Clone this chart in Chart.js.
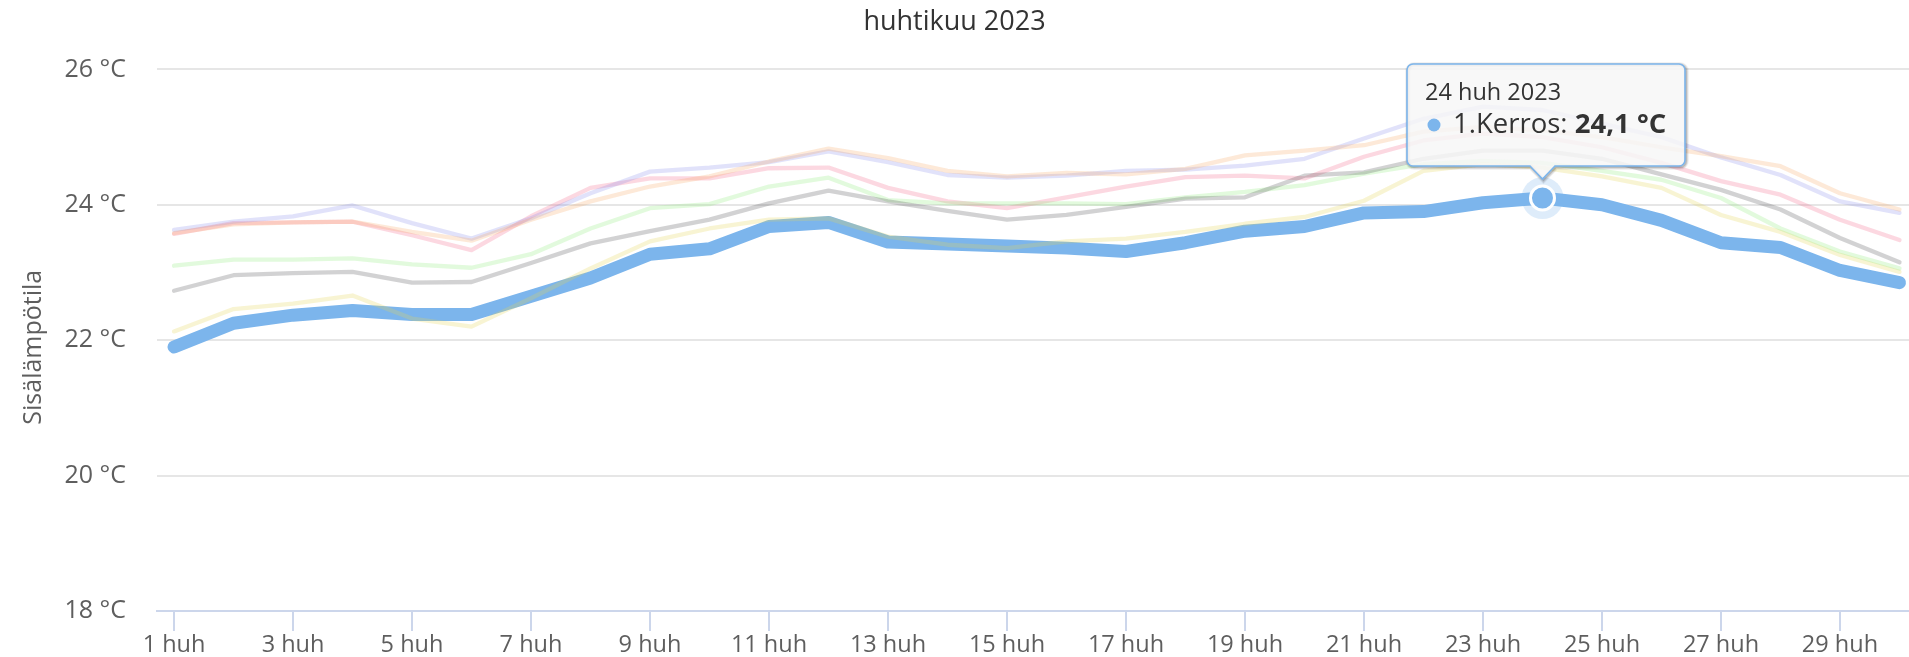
<!DOCTYPE html>
<html>
<head>
<meta charset="utf-8">
<script src="https://cdn.jsdelivr.net/npm/chart.js@4.4.0/dist/chart.umd.min.js"></script>
<style>
html,body{margin:0;padding:0;background:#ffffff;overflow:hidden}
#wrap{position:relative;width:1909px;height:657px}
</style>
</head>
<body>
<div id="wrap"><canvas id="c" width="1909" height="657"></canvas></div>
<script>
// ---- data ----
const days = [1,2,3,4,5,6,7,8,9,10,11,12,13,14,15,16,17,18,19,20,21,22,23,24,25,26,27,28,29,30];
const xTickDays = [1,3,5,7,9,11,13,15,17,19,21,23,25,27,29];
const xTickLabels = ['1 huh','3 huh','5 huh','7 huh','9 huh','11 huh','13 huh','15 huh','17 huh','19 huh','21 huh','23 huh','25 huh','27 huh','29 huh'];
const yTicks = [18,20,22,24,26];
const chartTitle = 'huhtikuu 2023';
const yTitle = 'Sisälämpötila';
const hoverDay = 24;

const kerros1  = [21.90,22.25,22.37,22.44,22.38,22.38,22.65,22.92,23.27,23.35,23.68,23.74,23.45,23.42,23.39,23.36,23.31,23.44,23.61,23.68,23.88,23.90,24.03,24.10,24.00,23.77,23.44,23.37,23.03,22.85];
const sarjaHarmaa = [22.73,22.96,22.99,23.01,22.85,22.86,23.14,23.43,23.61,23.78,24.02,24.21,24.05,23.91,23.78,23.85,23.97,24.09,24.11,24.43,24.48,24.68,24.80,24.80,24.68,24.45,24.22,23.93,23.51,23.15];
const sarjaVihrea = [23.10,23.19,23.19,23.21,23.12,23.07,23.27,23.65,23.95,24.01,24.27,24.40,24.07,24.02,24.02,24.02,24.01,24.11,24.19,24.29,24.46,24.60,24.65,24.62,24.50,24.37,24.10,23.65,23.31,23.06];
const sarjaOranssi = [23.58,23.71,23.74,23.75,23.60,23.47,23.78,24.05,24.27,24.42,24.64,24.83,24.69,24.50,24.42,24.47,24.45,24.53,24.73,24.80,24.88,25.08,25.15,25.10,25.00,24.85,24.72,24.57,24.17,23.93];
const sarjaVioletti = [23.63,23.75,23.83,23.99,23.73,23.50,23.80,24.17,24.49,24.55,24.63,24.79,24.63,24.44,24.40,24.43,24.50,24.52,24.58,24.68,24.98,25.27,25.45,25.40,25.20,25.00,24.70,24.44,24.05,23.88];
const sarjaPunainen = [23.57,23.73,23.74,23.75,23.55,23.33,23.83,24.25,24.39,24.39,24.54,24.55,24.25,24.05,23.95,24.11,24.27,24.41,24.43,24.39,24.71,24.95,25.05,25.00,24.85,24.62,24.35,24.15,23.78,23.48];
const sarjaKeltainen = [22.13,22.46,22.54,22.66,22.32,22.20,22.62,23.06,23.46,23.65,23.78,23.80,23.53,23.41,23.36,23.46,23.50,23.60,23.72,23.82,24.06,24.50,24.60,24.55,24.42,24.25,23.85,23.60,23.26,23.01];

const fadedSeries = [
  ['2.Kerros', sarjaHarmaa,    'rgba(67,67,72,0.24)'],
  ['3.Kerros', sarjaVihrea,    'rgba(144,237,125,0.26)'],
  ['4.Kerros', sarjaOranssi,   'rgba(247,163,92,0.24)'],
  ['5.Kerros', sarjaVioletti,  'rgba(128,133,233,0.24)'],
  ['6.Kerros', sarjaPunainen,  'rgba(241,92,128,0.24)'],
  ['7.Kerros', sarjaKeltainen, 'rgba(228,211,84,0.26)']
];

const MAIN_COLOR = '#7cb5ec';
const LABEL_COLOR = '#5e5e5e';
const HOVER_INDEX = days.indexOf(hoverDay);
const toXY = vals => vals.map((v, i) => ({x: days[i], y: v}));
const FONT = '"Open Sans", sans-serif';

function roundedCallout(ctx, x, y, w, h, r, cx, caretH, caretW) {
  const b = y + h;
  ctx.beginPath();
  ctx.moveTo(x + r, y);
  ctx.lineTo(x + w - r, y);
  ctx.arcTo(x + w, y, x + w, y + r, r);
  ctx.lineTo(x + w, b - r);
  ctx.arcTo(x + w, b, x + w - r, b, r);
  ctx.lineTo(cx + caretW, b);
  ctx.lineTo(cx, b + caretH);
  ctx.lineTo(cx - caretW, b);
  ctx.lineTo(x + r, b);
  ctx.arcTo(x, b, x, b - r, r);
  ctx.lineTo(x, y + r);
  ctx.arcTo(x, y, x + r, y, r);
  ctx.closePath();
}

const yTitlePlugin = {
  id: 'yTitle',
  afterDraw(chart) {
    const ctx = chart.ctx;
    const a = chart.chartArea;
    ctx.save();
    ctx.translate(34, (a.top + a.bottom) / 2 + 7);
    ctx.rotate(-Math.PI / 2);
    ctx.font = '25px ' + FONT;
    ctx.fillStyle = LABEL_COLOR;
    ctx.textAlign = 'center';
    ctx.textBaseline = 'middle';
    ctx.fillText(yTitle, 0, 0);
    ctx.restore();
  }
};

const haloPlugin = {
  id: 'halo',
  beforeDatasetsDraw(chart) {
    const meta = chart.getDatasetMeta(0);
    const pt = meta.data[HOVER_INDEX];
    if (!pt) return;
    const ctx = chart.ctx;
    ctx.save();
    ctx.fillStyle = 'rgba(124,181,236,0.25)';
    ctx.beginPath();
    ctx.arc(pt.x, pt.y, 21, 0, Math.PI * 2);
    ctx.fill();
    ctx.restore();
  }
};

const tooltipPlugin = {
  id: 'hcTooltip',
  afterDraw(chart) {
    const meta = chart.getDatasetMeta(0);
    const pt = meta.data[HOVER_INDEX];
    if (!pt) return;
    const ctx = chart.ctx;
    const header = days[HOVER_INDEX] + ' huh 2023';
    const name = chart.data.datasets[0].label + ': ';
    const val = kerros1[HOVER_INDEX].toFixed(1).replace('.', ',') + ' °C';
    ctx.save();
    ctx.font = '27.5px ' + FONT;
    const nameW = ctx.measureText(name).width;
    ctx.font = 'bold 27.5px ' + FONT;
    const valW = ctx.measureText(val).width;
    const w = Math.round(47 + nameW + valW + 18);
    const h = 102;
    const x = Math.round(pt.x - 135);
    const y = Math.round(pt.y - 134);
    for (let i = 0; i < 3; i++) {
      ctx.save();
      ctx.translate(1, 1);
      ctx.strokeStyle = 'rgba(0,0,0,' + (0.05 * (i + 1)) + ')';
      ctx.lineWidth = 6 - 2 * i;
      roundedCallout(ctx, x, y, w, h, 6, pt.x, 13, 12.5);
      ctx.stroke();
      ctx.restore();
    }
    roundedCallout(ctx, x, y, w, h, 6, pt.x, 13, 12.5);
    ctx.fillStyle = 'rgba(247,247,247,0.85)';
    ctx.fill();
    ctx.strokeStyle = MAIN_COLOR;
    ctx.lineWidth = 1.6;
    ctx.stroke();
    ctx.fillStyle = '#333333';
    ctx.textBaseline = 'middle';
    ctx.textAlign = 'left';
    ctx.font = '23.5px ' + FONT;
    ctx.fillText(header, x + 18, y + 29);
    ctx.fillStyle = MAIN_COLOR;
    ctx.beginPath();
    ctx.arc(x + 27, y + 61, 6.5, 0, Math.PI * 2);
    ctx.fill();
    ctx.fillStyle = '#333333';
    ctx.font = '27.5px ' + FONT;
    ctx.fillText(name, x + 46, y + 61);
    ctx.font = 'bold 27.5px ' + FONT;
    ctx.fillText(val, x + 46 + nameW, y + 61);
    ctx.restore();
  }
};

function build() {
  Chart.defaults.font.family = FONT;
  const datasets = [
    {
      label: '1.Kerros',
      data: toXY(kerros1),
      borderColor: MAIN_COLOR,
      backgroundColor: MAIN_COLOR,
      borderWidth: 13,
      borderCapStyle: 'round',
      borderJoinStyle: 'round',
      tension: 0,
      order: 10,
      pointRadius: c => c.dataIndex === HOVER_INDEX ? 12 : 0,
      pointBorderWidth: 3,
      pointBorderColor: '#ffffff',
      pointBackgroundColor: MAIN_COLOR,
      clip: false
    }
  ].concat(fadedSeries.map(([label, vals, color]) => ({
    label: label,
    data: toXY(vals),
    borderColor: color,
    backgroundColor: color,
    borderWidth: 4.3,
    borderCapStyle: 'round',
    borderJoinStyle: 'round',
    tension: 0,
    pointRadius: 0,
    order: 0,
    clip: false
  })));

  new Chart(document.getElementById('c'), {
    type: 'line',
    data: {datasets: datasets},
    options: {
      responsive: false,
      animation: false,
      devicePixelRatio: 1,
      events: [],
      layout: {padding: 0},
      plugins: {
        legend: {display: false},
        tooltip: {enabled: false},
        title: {
          display: true,
          text: chartTitle,
          color: '#333333',
          font: {size: 27, weight: 'normal', family: FONT},
          padding: {top: 6, bottom: 31}
        }
      },
      scales: {
        x: {
          type: 'linear',
          min: 0.714,
          max: 30.16,
          afterBuildTicks: s => { s.ticks = xTickDays.map(v => ({value: v})); },
          afterFit: s => { s.height = 44; },
          grid: {drawOnChartArea: false, drawTicks: true, tickLength: 20, tickColor: '#ccd6eb', lineWidth: 2},
          border: {display: true, color: '#ccd6eb', width: 2},
          ticks: {
            autoSkip: false, maxRotation: 0, minRotation: 0, padding: 0,
            color: LABEL_COLOR, font: {size: 23.5, family: FONT},
            callback: (v, i) => xTickLabels[i]
          }
        },
        y: {
          min: 18,
          max: 26,
          afterBuildTicks: s => { s.ticks = yTicks.map(v => ({value: v})); },
          afterFit: s => { s.width = 157; },
          grid: {color: '#e6e6e6', lineWidth: 2, drawTicks: false},
          border: {display: false},
          ticks: {
            padding: 31, color: LABEL_COLOR, font: {size: 25, family: FONT},
            callback: v => v + ' °C'
          },
          title: {display: false, text: yTitle}
        }
      }
    },
    plugins: [haloPlugin, tooltipPlugin, yTitlePlugin]
  });
}

if (document.fonts && document.fonts.load) {
  Promise.all([
    document.fonts.load('23px "Open Sans"'),
    document.fonts.load('bold 26px "Open Sans"')
  ]).then(build, build);
} else {
  build();
}
</script>
</body>
</html>
